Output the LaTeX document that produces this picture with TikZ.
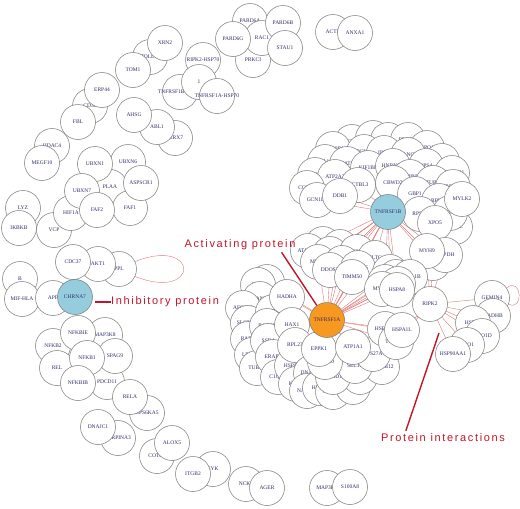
\documentclass[tikz,border=0pt]{standalone}
\usepackage{fontspec}
\setmainfont{Liberation Serif}
\newfontfamily\notefont[LetterSpace=15]{Liberation Sans}
\usetikzlibrary{backgrounds}

\definecolor{genenavy}{RGB}{45,45,105}
\definecolor{ringgray}{RGB}{120,120,120}
\definecolor{chrnablue}{RGB}{150,205,222}
\definecolor{tnforange}{RGB}{247,152,32}
\definecolor{edgered}{RGB}{225,120,120}
\definecolor{notered}{RGB}{195,20,40}

\newcommand{\gname}[1]{\makebox[0pt]{#1}}

\begin{document}
\begin{tikzpicture}[
    x=1pt, y=-1pt,
    protein/.style={
        circle,
        draw=ringgray,
        fill=white,
        line width=0.5pt,
        minimum size=35pt,
        inner sep=0pt,
        text=genenavy,
        font=\fontsize{5.5}{6}\selectfont
    },
    inhibitor/.style={
        protein,
        fill=chrnablue
    },
    activator/.style={
        protein,
        fill=tnforange
    },
    interaction/.style={
        -,
        draw=edgered,
        line width=0.4pt
    },
    callout/.style={
        -,
        draw=notered,
        line width=1.4pt
    },
    note/.style={
        text=notered,
        inner sep=0pt,
        font=\notefont\fontsize{11}{12}\selectfont
    }
]
\useasboundingbox (0,0) rectangle (520,509);

% top right pairs
\node[protein] (PARD6A) at (250,21) {\gname{PARD6A}};
\node[protein] (PRKCI) at (253,60) {\gname{PRKCI}};
\node[protein] (RAC1) at (262,38) {\gname{RAC1}};
\node[protein] (PARD6G) at (233,39) {\gname{PARD6G}};
\node[protein] (PARD6B) at (283,23) {\gname{PARD6B}};
\node[protein] (STAU1) at (285,48) {\gname{STAU1}};
\node[protein] (ACTB) at (333,32) {\gname{ACTB}};
\node[protein] (ANXA1) at (355,33) {\gname{ANXA1}};

% top left chain
\node[protein] (TOLLIP) at (150,57) {\gname{TOLLIP}};
\node[protein] (XRN2) at (165,43) {\gname{XRN2}};
\node[protein] (TOM1) at (133,70) {\gname{TOM1}};
\node[protein] (RIPKHSP) at (203,60) {\gname{RIPK2-HSP70}};
\node[protein] (TNFBHSP) at (180,92) {\gname{TNFRSF1B-HSP70}};
\node[protein] (one) at (199,82) {\gname{1}};
\node[protein] (TNFAHSP) at (217,96) {\gname{TNFRSF1A-HSP70}};
\node[protein] (CD30) at (90,106) {\gname{CD30}};
\node[protein] (ERP44) at (102,90) {\gname{ERP44}};
\node[protein] (FBL) at (78,122) {\gname{FBL}};
\node[protein] (P2RX7) at (175,138) {\gname{P2RX7}};
\node[protein] (ABL1) at (157,127) {\gname{ABL1}};
\node[protein] (AHSG) at (134,115) {\gname{AHSG}};

% left middle
\node[protein] (HDAC4) at (52,146) {\gname{HDAC4}};
\node[protein] (MEGF10) at (42,163) {\gname{MEGF10}};
\node[protein] (UBXN6) at (128,162) {\gname{UBXN6}};
\node[protein] (PLAA) at (110,187) {\gname{PLAA}};
\node[protein] (UBXN1) at (95,164) {\gname{UBXN1}};
\node[protein] (FAF1) at (130,208) {\gname{FAF1}};
\node[protein] (ASPSCR1) at (141,183) {\gname{ASPSCR1}};
\node[protein] (VCP) at (54,230) {\gname{VCP}};
\node[protein] (HIF1A) at (71,213) {\gname{HIF1A}};
\node[protein] (UBXN7) at (82,191) {\gname{UBXN7}};
\node[protein] (FAF2) at (97,210) {\gname{FAF2}};
\node[protein] (LYZ) at (23,208) {\gname{LYZ}};
\node[protein] (IKBKB) at (19,228) {\gname{IKBKB}};

\node[protein] (PPL) at (119,269) {\gname{PPL}};
\node[protein] (AKT1) at (98,264) {\gname{AKT1}};
\node[protein] (CDC37) at (73,262) {\gname{CDC37}};

\node[protein] (B) at (20,279) {\gname{B}};
\node[protein] (MIFHLA) at (22,299) {\gname{MIF-HLA}};
\node[protein] (APP) at (53,298) {\gname{APP}};
\node[inhibitor] (CHRNA7) at (75,297) {\gname{CHRNA7}};

% left bottom
\node[protein] (NFKB2) at (53,346) {\gname{NFKB2}};
\node[protein] (MAP3K8) at (105,335) {\gname{MAP3K8}};
\node[protein] (NFKBIE) at (78,333) {\gname{NFKBIE}};
\node[protein] (REL) at (57,368) {\gname{REL}};
\node[protein] (PDCD11) at (107,382) {\gname{PDCD11}};
\node[protein] (SPAG9) at (115,356) {\gname{SPAG9}};
\node[protein] (NFKB1) at (87,358) {\gname{NFKB1}};
\node[protein] (NFKBIB) at (78,383) {\gname{NFKBIB}};
\node[protein] (RPS6KA5) at (147,413) {\gname{RPS6KA5}};
\node[protein] (RELA) at (130,397) {\gname{RELA}};
\node[protein] (SERPINA3) at (118,438) {\gname{SERPINA3}};
\node[protein] (DNAJC1) at (98,427) {\gname{DNAJC1}};

\node[protein] (COTL1) at (157,456) {\gname{COTL1}};
\node[protein] (ALOX5) at (172,443) {\gname{ALOX5}};
\node[protein] (SYK) at (213,469) {\gname{SYK}};
\node[protein] (ITGB2) at (193,474) {\gname{ITGB2}};
\node[protein] (NCK1) at (246,484) {\gname{NCK1}};
\node[protein] (AGER) at (267,488) {\gname{AGER}};
\node[protein] (MAP3K8b) at (327,488) {\gname{MAP3K8}};
\node[protein] (S100A8) at (350,487) {\gname{S100A8}};

% TNFRSF1B cluster
\node[protein] (SLC25A5) at (352,142) {\gname{SLC25A5}};
\node[protein] (SLC25A6) at (373,138) {\gname{SLC25A6}};
\node[protein] (SEC61A1) at (388,140) {\gname{SEC61A1}};
\node[protein] (PRKDC) at (408,140) {\gname{PRKDC}};
\node[protein] (HSP90B1) at (333,149) {\gname{HSP90B1}};
\node[protein] (XPO1) at (427,148) {\gname{XPO1}};
\node[protein] (PCNA) at (364,152) {\gname{PCNA}};
\node[protein] (IPO7) at (384,153) {\gname{IPO7}};
\node[protein] (FANCI) at (408,155) {\gname{FANCI}};
\node[protein] (DNAJA1) at (325,162) {\gname{DNAJA1}};
\node[protein] (HEATR6) at (347,164) {\gname{HEATR6}};
\node[protein] (KIF1BP) at (368,168) {\gname{KIF1BP}};
\node[protein] (SLC25A4) at (442,161) {\gname{SLC25A4}};
\node[protein] (RPS4) at (426,166) {\gname{RPS4}};
\node[protein] (HNRNPU) at (393,166) {\gname{HNRNPU}};
\node[protein] (SLC25A11) at (452,173) {\gname{SLC25A11}};
\node[protein] (SERPINH1) at (410,177) {\gname{SERPINH1}};
\node[protein] (ATP2A1) at (315,175) {\gname{ATP2A1}};
\node[protein] (ATP2A2) at (335,177) {\gname{ATP2A2}};
\node[protein] (COPB1) at (307,188) {\gname{COPB1}};
\node[protein] (GCN1L1) at (317,200) {\gname{GCN1L1}};
\node[protein] (ACTBL3) at (358,185) {\gname{ACTBL3}};
\node[protein] (DDB1) at (340,196) {\gname{DDB1}};
\node[protein] (CBWD2) at (393,183) {\gname{CBWD2}};
\node[protein] (TUBB) at (433,183) {\gname{TUBB}};
\node[protein] (RPS14) at (453,187) {\gname{RPS14}};
\node[protein] (GBP1) at (415,194) {\gname{GBP1}};
\node[protein] (RPL30) at (439,201) {\gname{RPL30}};
\node[protein] (CSE1L) at (455,227) {\gname{CSE1L}};
\node[protein] (HNRNPC) at (450,213) {\gname{HNRNPC}};
\node[protein] (MYLK2) at (462,199) {\gname{MYLK2}};
\node[protein] (RPS16) at (420,214) {\gname{RPS16}};
\node[protein] (XPO5) at (435,223) {\gname{XPO5}};
\node[protein] (VIM) at (433,263) {\gname{VIM}};
\node[protein] (GAPDH) at (445,255) {\gname{GAPDH}};
\node[protein] (MYH9) at (427,251) {\gname{MYH9}};
\node[inhibitor] (TNFRSF1B) at (388,212) {\gname{TNFRSF1B}};

% TNFRSF1A cluster
\node[protein] (UBA52) at (267,282) {\gname{UBA52}};
\node[protein] (IPO8) at (258,285) {\gname{IPO8}};
\node[protein] (CANX) at (260,299) {\gname{CANX}};
\node[protein] (AFG3L2) at (243,308) {\gname{AFG3L2}};
\node[protein] (SLC25A5b) at (248,323) {\gname{SLC25A5}};
\node[protein] (RARS) at (248,339) {\gname{RARS}};
\node[protein] (LRRC59) at (252,355) {\gname{LRRC59}};
\node[protein] (TUBB6) at (257,368) {\gname{TUBB6}};
\node[protein] (ATP5A1) at (273,312) {\gname{ATP5A1}};
\node[protein] (RAD23) at (267,326) {\gname{RAD23}};
\node[protein] (SSR4) at (268,341) {\gname{SSR4}};
\node[protein] (ERAP1) at (273,357) {\gname{ERAP1}};
\node[protein] (HADHA) at (287,297) {\gname{HADHA}};
\node[protein] (C1QBP) at (278,377) {\gname{C1QBP}};
\node[protein] (HSPA5) at (292,366) {\gname{HSPA5}};
\node[protein] (KIF21) at (296,384) {\gname{KIF21}};
\node[protein] (HAX1) at (292,325) {\gname{HAX1}};
\node[protein] (RPL23) at (295,345) {\gname{RPL23}};
\node[protein] (DNAJA3) at (311,373) {\gname{DNAJA1}};
\node[protein] (NAP1L1) at (307,391) {\gname{NAP1L1}};
\node[protein] (HSPA8) at (320,388) {\gname{HSPA8}};
\node[protein] (CLTCL1) at (333,392) {\gname{CLTCL1}};
\node[protein] (RPS3) at (353,387) {\gname{RPS3}};
\node[protein] (RUVBL1) at (360,377) {\gname{RUVBL1}};
\node[protein] (DNAJB12) at (382,367) {\gname{DNAJB12}};
\node[protein] (CAND1) at (333,377) {\gname{CAND1}};
\node[protein] (SEL1L) at (355,366) {\gname{SEL1L}};
\node[protein] (PRKCD) at (325,362) {\gname{PRKCD}};
\node[protein] (EPPK1) at (319,349) {\gname{EPPK1}};
\node[protein] (RPS27A) at (373,354) {\gname{RPS27A}};
\node[protein] (ATP1A1) at (353,347) {\gname{ATP1A1}};
\node[protein] (CDIPT) at (323,244) {\gname{CDIPT}};
\node[protein] (ATAD3A) at (308,251) {\gname{ATAD3A}};
\node[protein] (RPS27) at (340,247) {\gname{RPS27}};
\node[protein] (RCN2) at (330,254) {\gname{RCN2}};
\node[protein] (MYO6) at (318,262) {\gname{MYO6}};
\node[protein] (SLC25A3) at (357,252) {\gname{SLC25A3}};
\node[protein] (CLTC) at (375,258) {\gname{CLTC}};
\node[protein] (CAD) at (342,263) {\gname{CAD}};
\node[protein] (DDOST) at (330,270) {\gname{DDOST}};
\node[protein] (SLC1A5) at (358,268) {\gname{SLC1A5}};
\node[protein] (TIMM50) at (352,277) {\gname{TIMM50}};
\node[protein] (TUBBb) at (390,272) {\gname{TUBB}};
\node[protein] (TUBA1C) at (396,277) {\gname{TUBA1C}};
\node[protein] (TUBA1B) at (410,277) {\gname{TUBA1B}};
\node[protein] (CALM2) at (385,282) {\gname{CALM2}};
\node[protein] (ACTG1) at (398,284) {\gname{ACTG1}};
\node[protein] (MYH10) at (382,289) {\gname{MYH10}};
\node[protein] (HSPA8b) at (397,290) {\gname{HSPA8}};
\node[protein] (HSPA1A) at (385,329) {\gname{HSPA1A}};
\node[protein] (TUBB2B) at (396,342) {\gname{TUBB2B}};
\node[protein] (HSPA1L) at (402,330) {\gname{HSPA1L}};
\node[activator] (TNFRSF1A) at (327,320) {\gname{TNFRSF1A}};

% RIPK2 group
\node[protein] (GEMIN4) at (492,298) {\gname{GEMIN4}};
\node[protein] (HADHB) at (493,316) {\gname{HADHB}};
\node[protein] (HSPA2) at (473,323) {\gname{HSPA2}};
\node[protein] (MYO1D) at (482,336) {\gname{MYO1D}};
\node[protein] (ENO1) at (467,345) {\gname{ENO1}};
\node[protein] (HSP90AA1) at (453,354) {\gname{HSP90AA1}};
\node[protein] (RIPK2) at (430,304) {\gname{RIPK2}};

% interactions, under the circles
\begin{scope}[on background layer]
\foreach \t in {CDIPT,RPS27,RCN2,SLC25A3,CLTC,CAD,SLC1A5,TIMM50,TUBBb,TUBA1C,CALM2,MYO6,DDOST,DDB1,GCN1L1,ACTBL3,CBWD2,RPS16,XPO5,MYH9,GAPDH,VIM,TNFRSF1A}
    \draw[interaction] (TNFRSF1B) -- (\t);
\foreach \t in {DDOST,TIMM50,SLC1A5,CLTC,TUBBb,TUBA1C,TUBA1B,CALM2,ACTG1,MYH10,HSPA8b,HSPA1A,HSPA1L,TUBB2B,HADHA,HAX1,UBA52,EPPK1,ATP1A1,CAD,MYO6,SLC25A3,RPS27}
    \draw[interaction] (TNFRSF1A) -- (\t);
\foreach \t in {MYH9,GAPDH,VIM,TUBA1B,ACTG1,HSPA8b,MYH10,GEMIN4,HADHB,HSPA2,MYO1D,HSPA1L,TUBB2B,HSP90AA1,ENO1}
    \draw[interaction] (RIPK2) -- (\t);
\draw[interaction] (PPL.25) .. controls (200,236) and (200,302) .. (PPL.-25);
\draw[interaction] (GEMIN4.35) .. controls (522,276) and (524,312) .. (GEMIN4.-20);
\end{scope}

% callouts
\node[note, anchor=west] (inhnote) at (111,302) {Inhibitory protein};
\coordinate (inhtip) at (95,302);
\draw[callout] (inhtip) -- (inhnote.west);

\node[note] (actnote) at (240,245) {Activating protein};
\draw[callout] ([xshift=-14pt,yshift=-2pt]actnote.south east) -- (TNFRSF1A.125);

\node[note] (pinote) at (443,438) {Protein interactions};
\coordinate (pitip) at (439,333);
\draw[callout] ([xshift=25pt,yshift=3pt]pinote.north west) -- (pitip);

\end{tikzpicture}
\end{document}
